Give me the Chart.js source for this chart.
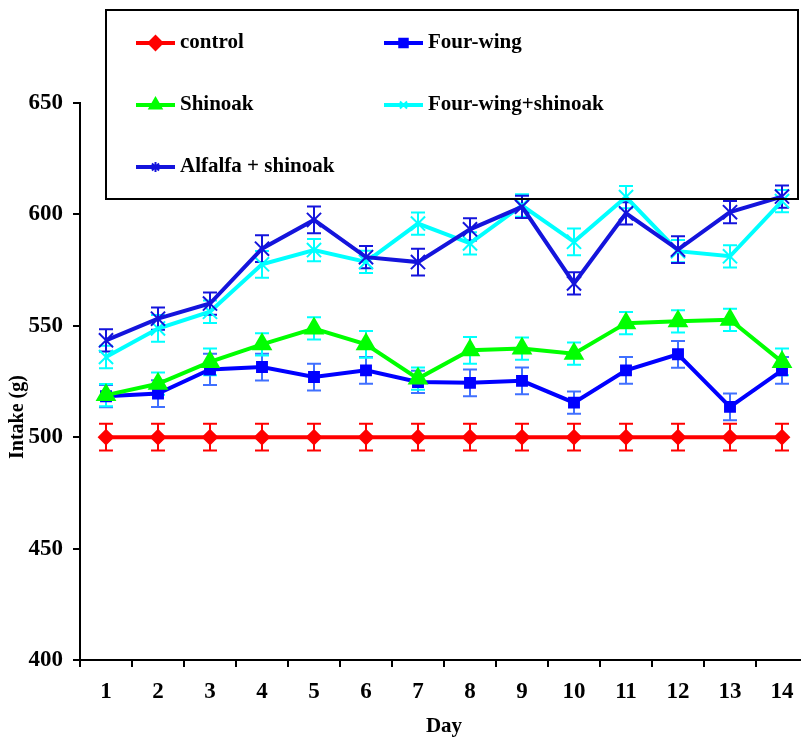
<!DOCTYPE html>
<html>
<head>
<meta charset="utf-8">
<script src="https://cdn.jsdelivr.net/npm/chart.js@4/dist/chart.umd.min.js"></script>
<style>
  html, body { margin: 0; background: #fff; overflow: hidden; }
  #wrap { width: 801px; height: 740px; overflow: hidden; }
</style>
</head>
<body>
<div id="wrap"><canvas id="chart" width="808" height="740"></canvas></div>
<script>
// Dados
const days = ['1', '2', '3', '4', '5', '6', '7', '8', '9', '10', '11', '12', '13', '14'];
const control = [500, 500, 500, 500, 500, 500, 500, 500, 500, 500, 500, 500, 500, 500];
const controlErr = [6, 6, 6, 6, 6, 6, 6, 6, 6, 6, 6, 6, 6, 6];
const fourWing = [518.4, 519.6, 530.4, 531.5, 527, 530, 524.8, 524.4, 525.3, 515.5, 530, 537.2, 513.6, 530];
const fourWingErr = [5, 6, 7, 6, 6, 6, 5, 6, 6, 5, 6, 6, 6, 6];
const shinoak = [518.9, 524, 533.8, 541.7, 548.8, 541.7, 526.3, 539, 539.8, 537.5, 551.2, 552, 552.7, 533.8];
const shinoakErr = [5, 5, 6, 5, 5, 6, 5, 6, 5, 5, 5, 5, 5, 6];
const fwShinoak = [536, 548.8, 556.3, 577.6, 584, 578.7, 595.9, 587, 604, 587.7, 607.8, 583.5, 581.2, 606];
const fwShinoakErr = [5, 6, 5, 6, 5, 5, 5, 5, 5, 6, 5, 5, 5, 5];
const alfShinoak = [543.5, 553.2, 560, 584.6, 597.5, 580.8, 578.6, 593.3, 603.4, 569, 600.5, 584.2, 601, 608];
const alfShinoakErr = [5, 5, 5, 6, 6, 5, 6, 5, 5, 5, 5, 6, 5, 5];
const yTicks = [400, 450, 500, 550, 600, 650];

const serif = '"Liberation Serif", "Times New Roman", serif';

// Séries: cor da linha, cor da barra de erro, marcador
const series = [
    { label: 'control', data: control, err: controlErr, color: '#ff0000', errColor: '#ff0000', style: 'rectRot', legendStyle: 'rectRot', radius: 7, legendRadius: 7 },
    { label: 'Four-wing', data: fourWing, err: fourWingErr, color: '#0000ff', errColor: '#4070ff', style: 'rect', legendStyle: 'rect', radius: 7, legendRadius: 6 },
    { label: 'Shinoak', data: shinoak, err: shinoakErr, color: '#00ff00', errColor: '#00ffff', style: 'triangle', legendStyle: 'triangle', radius: 10, legendRadius: 7 },
    { label: 'Four-wing+shinoak', data: fwShinoak, err: fwShinoakErr, color: '#00ffff', errColor: '#00ffff', style: 'crossRot', legendStyle: 'crossRot', radius: 10, legendRadius: 5 },
    { label: 'Alfalfa + shinoak', data: alfShinoak, err: alfShinoakErr, color: '#1414dc', errColor: '#1414dc', style: 'crossRot', legendStyle: 'star', radius: 10, legendRadius: 5 }
];

// Barras de erro desenhadas a partir das escalas
const errorBars = {
    id: 'errorBars',
    beforeDatasetsDraw(chart) {
        const ctx = chart.ctx;
        const x = chart.scales.x;
        const y = chart.scales.y;
        ctx.save();
        ctx.lineWidth = 2;
        series.forEach(function(s) {
            ctx.strokeStyle = s.errColor;
            s.data.forEach(function(v, i) {
                const px = x.getPixelForValue(i);
                const top = y.getPixelForValue(v + s.err[i]);
                const bot = y.getPixelForValue(v - s.err[i]);
                ctx.beginPath();
                ctx.moveTo(px, top); ctx.lineTo(px, bot);
                ctx.moveTo(px - 7, top); ctx.lineTo(px + 7, top);
                ctx.moveTo(px - 7, bot); ctx.lineTo(px + 7, bot);
                ctx.stroke();
            });
        });
        ctx.restore();
    }
};

// Legenda em caixa e título do eixo Y
const boxLegend = {
    id: 'boxLegend',
    afterDraw(chart) {
        const ctx = chart.ctx;
        ctx.save();
        ctx.strokeStyle = '#000';
        ctx.lineWidth = 2;
        ctx.strokeRect(106, 10, 692, 189);

        const slots = [[136, 43], [384, 43], [136, 105], [384, 105], [136, 167]];
        ctx.font = 'bold 21px ' + serif;
        ctx.textBaseline = 'middle';
        series.forEach(function(s, i) {
            const sx = slots[i][0], sy = slots[i][1];
            ctx.strokeStyle = s.color;
            ctx.fillStyle = s.color;
            ctx.lineWidth = 4;
            ctx.beginPath();
            ctx.moveTo(sx, sy); ctx.lineTo(sx + 39, sy);
            ctx.stroke();
            ctx.lineWidth = 2;
            Chart.helpers.drawPoint(ctx, { pointStyle: s.legendStyle, radius: s.legendRadius, rotation: 0, borderWidth: 2 }, sx + 19.5, sy);
            ctx.fillStyle = '#000';
            ctx.textAlign = 'left';
            ctx.fillText(s.label, sx + 44, sy);
        });

        ctx.translate(18, 417);
        ctx.rotate(-Math.PI / 2);
        ctx.textAlign = 'center';
        ctx.font = 'bold 20px ' + serif;
        ctx.fillText('Intake (g)', 0, 0);
        ctx.restore();
    }
};

const datasets = series.map(function(s, i) {
    return {
        label: s.label,
        data: s.data,
        borderColor: s.color,
        backgroundColor: s.color,
        borderWidth: 4,
        pointStyle: s.style,
        pointRadius: s.radius,
        pointBorderWidth: 2,
        pointBorderColor: s.color,
        pointBackgroundColor: s.color,
        tension: 0,
        order: series.length - 1 - i
    };
});

new Chart(document.getElementById('chart'), {
    type: 'line',
    data: { labels: days, datasets: datasets },
    options: {
        responsive: false,
        animation: false,
        layout: { autoPadding: false, padding: { top: 103, right: 0, left: 0, bottom: 0 } },
        plugins: {
            legend: { display: false },
            tooltip: { enabled: false }
        },
        scales: {
            x: {
                type: 'category',
                offset: true,
                afterFit: function(scale) {
                    scale.height = 80;
                    scale.paddingLeft = 0;
                    scale.paddingRight = 0;
                },
                grid: { offset: true, drawOnChartArea: false, drawTicks: true, tickLength: 7, color: '#000', lineWidth: 2 },
                border: { color: '#000', width: 2 },
                ticks: { color: '#000', padding: 11, font: { family: serif, size: 23, weight: 'bold' } },
                title: { display: true, text: 'Day', color: '#000', padding: { top: 0, bottom: 1 }, font: { family: serif, size: 21, weight: 'bold' } }
            },
            y: {
                min: 400,
                max: 650,
                afterFit: function(scale) { scale.width = 80; },
                afterBuildTicks: function(scale) { scale.ticks = yTicks.map(function(v) { return { value: v }; }); },
                grid: { drawOnChartArea: false, drawTicks: true, tickLength: 7, color: '#000', lineWidth: 2 },
                border: { color: '#000', width: 2 },
                ticks: { color: '#000', padding: 10, font: { family: serif, size: 23, weight: 'bold' } }
            }
        }
    },
    plugins: [errorBars, boxLegend]
});
</script>
</body>
</html>
